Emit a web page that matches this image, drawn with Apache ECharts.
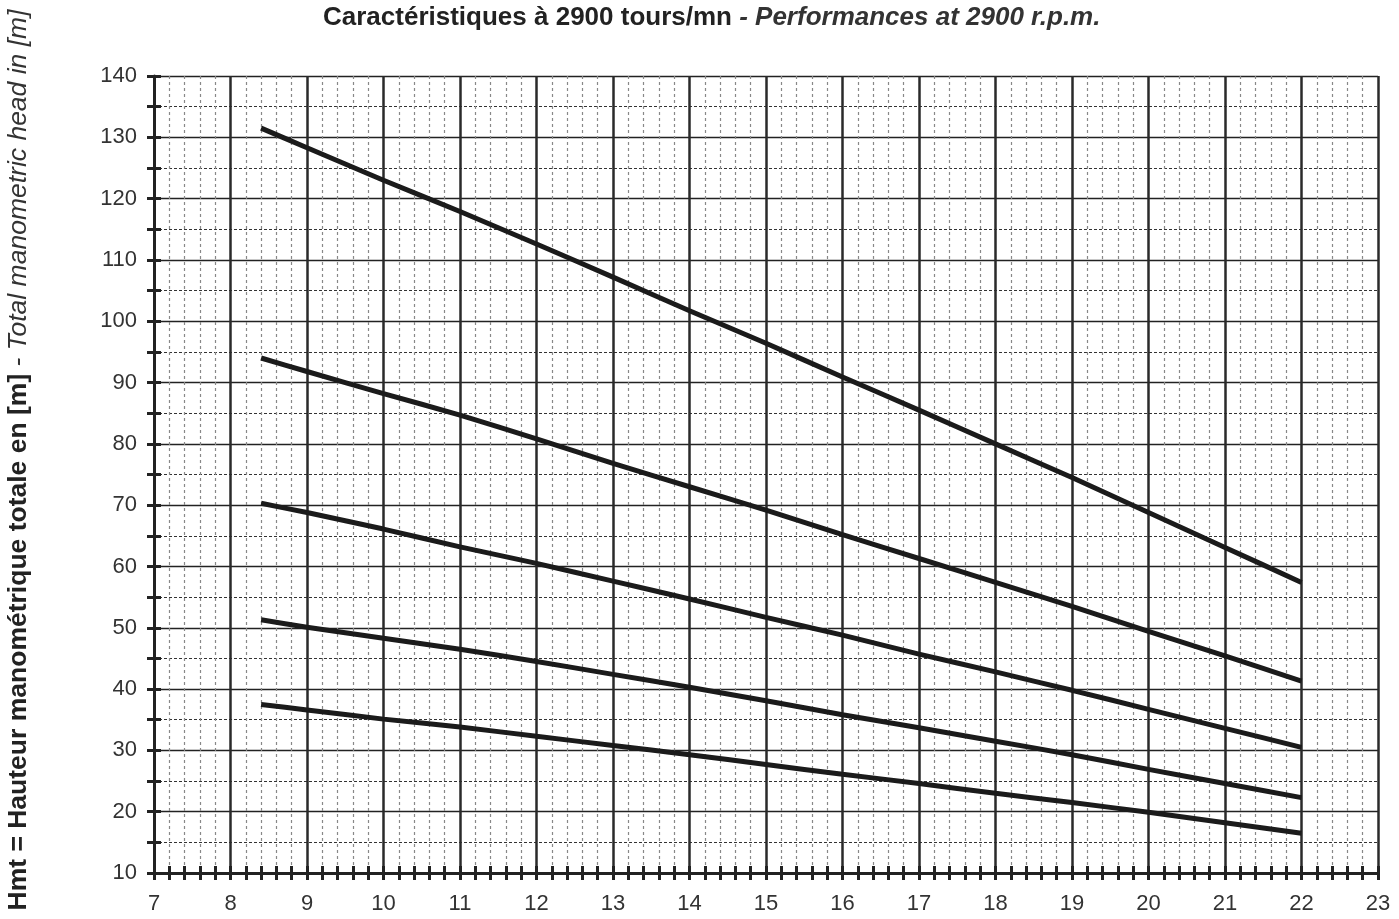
<!DOCTYPE html>
<html>
<head>
<meta charset="utf-8">
<script src="https://cdn.jsdelivr.net/npm/echarts@6/dist/echarts.min.js"></script>
<style>
  html, body { margin: 0; padding: 0; background: #fff; }
  #chart { width: 1399px; height: 919px; }
</style>
</head>
<body>
<div id="chart"></div>
<script>
// debit (m3/h) on x, head (m) on y
const flowRates = [8.4, 9, 10, 11, 12, 13, 14, 15, 16, 17, 18, 19, 20, 21, 22];
const head1 = [131.5, 128.3, 123.0, 117.9, 112.6, 107.2, 101.7, 96.4, 90.9, 85.5, 80.0, 74.5, 68.8, 63.1, 57.4];
const head2 = [94.0, 91.8, 88.2, 84.7, 80.8, 76.8, 73.0, 69.2, 65.2, 61.3, 57.4, 53.5, 49.4, 45.4, 41.3];
const head3 = [70.3, 68.8, 66.1, 63.2, 60.5, 57.6, 54.7, 51.7, 48.8, 45.7, 42.8, 39.8, 36.7, 33.6, 30.5];
const head4 = [51.3, 50.1, 48.3, 46.5, 44.5, 42.4, 40.3, 38.1, 35.8, 33.7, 31.5, 29.3, 26.9, 24.6, 22.3];
const head5 = [37.5, 36.6, 35.1, 33.8, 32.3, 30.8, 29.3, 27.7, 26.1, 24.6, 23.0, 21.5, 19.9, 18.2, 16.5];
const curves = [head1, head2, head3, head4, head5];

const font = "'Liberation Sans', Arial, sans-serif";
const chart = echarts.init(document.getElementById("chart"));

function pairs(ys) {
  let out = [];
  for (let i in flowRates) {
    out.push([flowRates[i], ys[i]]);
  }
  return out;
}

let series = [];
for (let c of curves) {
  series.push({
    type: "line",
    symbol: "none",
    smooth: 0.2,
    data: pairs(c),
    lineStyle: { color: "#1b1b1b", width: 5 },
    z: 5,
  });
}

const option = {
  animation: false,
  title: {
    text: "{b|Caractéristiques à 2900 tours/mn}{i| - Performances at 2900 r.p.m.}",
    left: 318,
    top: 0,
    textStyle: {
      rich: {
        b: { fontFamily: font, fontSize: 26, fontWeight: "bold", color: "#222" },
        i: { fontFamily: font, fontSize: 26, fontStyle: "italic", color: "#333" },
      },
    },
  },
  graphic: [
    {
      type: "text",
      x: 19,
      y: 460,
      rotation: Math.PI / 2,
      style: {
        text: "{b|Hmt = Hauteur manométrique totale en [m]}{i| - Total manometric head in [m]}",
        align: "center",
        verticalAlign: "middle",
        rich: {
          b: { fontFamily: font, fontSize: 26.5, fontWeight: "bold", fill: "#222" },
          i: { fontFamily: font, fontSize: 26.5, fontStyle: "italic", fill: "#333" },
        },
      },
    },
  ],
  grid: { left: 154, right: 21, top: 76, bottom: 46 },
  xAxis: [
    {
      type: "value",
      min: 7,
      max: 23,
      interval: 1,
      axisLine: { lineStyle: { color: "#222", width: 3 } },
      axisTick: { length: 7, lineStyle: { color: "#222", width: 3 } },
      minorTick: { show: true, splitNumber: 5, length: 7, lineStyle: { color: "#222", width: 3 } },
      axisLabel: { margin: 20, fontFamily: font, fontSize: 22, color: "#333" },
      splitLine: { lineStyle: { color: "#2a2a2a", width: 2.5 } },
      minorSplitLine: { show: true, lineStyle: { color: "#888", width: 1.2, type: [3, 3] } },
    },
    {
      type: "value",
      position: "bottom",
      min: 7,
      max: 23,
      interval: 1,
      axisLine: { show: false },
      axisTick: { inside: true, length: 7, lineStyle: { color: "#222", width: 3 } },
      minorTick: { show: true, splitNumber: 5, length: 7, lineStyle: { color: "#222", width: 3 } },
      axisLabel: { show: false },
      splitLine: { show: false },
    },
  ],
  yAxis: [
    {
      type: "value",
      min: 10,
      max: 140,
      interval: 10,
      axisLine: { show: true, lineStyle: { color: "#222", width: 3 } },
      axisTick: { show: true, length: 7, lineStyle: { color: "#222", width: 3 } },
      minorTick: { show: true, splitNumber: 2, length: 7, lineStyle: { color: "#222", width: 3 } },
      axisLabel: { margin: 17, fontFamily: font, fontSize: 22, color: "#333" },
      splitLine: { lineStyle: { color: "#222", width: 1.3 } },
      minorSplitLine: { show: true, lineStyle: { color: "#333", width: 1.2, type: [3, 2] } },
    },
    {
      type: "value",
      position: "left",
      min: 10,
      max: 140,
      interval: 10,
      axisLine: { show: false },
      axisTick: { show: true, inside: true, length: 7, lineStyle: { color: "#222", width: 3 } },
      minorTick: { show: true, splitNumber: 2, length: 7, lineStyle: { color: "#222", width: 3 } },
      axisLabel: { show: false },
      splitLine: { show: false },
    },
  ],
  series: series,
};

chart.setOption(option);
</script>
</body>
</html>
